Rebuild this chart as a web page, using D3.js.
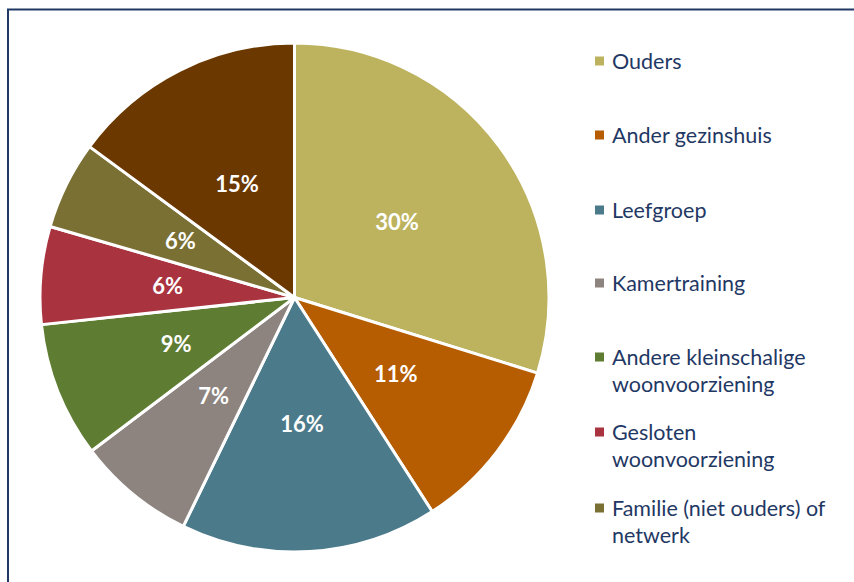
<!DOCTYPE html>
<html>
<head>
<meta charset="utf-8">
<script src="https://cdn.jsdelivr.net/npm/d3@7"></script>
<style>
  body { margin: 0; background: #fff; }
  svg { display: block; }
</style>
</head>
<body>
<div id="chart"></div>
<script>
// slice data, clockwise from 12 o'clock
const categories = ["Ouders", "Ander gezinshuis", "Leefgroep", "Kamertraining",
  "Andere kleinschalige woonvoorziening", "Gesloten woonvoorziening",
  "Familie (niet ouders) of netwerk", "Overige"];
const values = [29.8, 11.1, 16.3, 7.5, 8.6, 6.2, 5.6, 14.9];
const labels = ["30%", "11%", "16%", "7%", "9%", "6%", "6%", "15%"];
const colors = ["#BDB35F", "#B55D00", "#4B7A8B", "#8D8480", "#5E7D32", "#AA3340", "#7A7034", "#6B3800"];
// legend only shows the first seven, wrapped like in the original
const legendLines = [["Ouders"], ["Ander gezinshuis"], ["Leefgroep"], ["Kamertraining"],
  ["Andere kleinschalige", "woonvoorziening"], ["Gesloten", "woonvoorziening"],
  ["Familie (niet ouders) of", "netwerk"]];
const legendY = [61, 135, 210, 283, 357, 432, 508];

const width = 854, height = 582;
const cx = 294.5, cy = 297.5, radius = 254.5;

const svg = d3.select("#chart").append("svg")
  .attr("width", width)
  .attr("height", height);

// frame
svg.append("rect")
  .attr("x", 8).attr("y", 9.5)
  .attr("width", 900).attr("height", 700)
  .attr("fill", "none")
  .attr("stroke", "#1F3864")
  .attr("stroke-width", 2);

const data = categories.map((c, i) => ({cat: c, value: values[i], label: labels[i], color: colors[i]}));

const pie = d3.pie().value(d => d.value).sort(null);
const arc = d3.arc().innerRadius(0).outerRadius(radius);
const labelArc = d3.arc().innerRadius(0).outerRadius(radius); // centroid = r/2

const g = svg.append("g").attr("transform", `translate(${cx},${cy})`);

const arcs = pie(data);

g.selectAll("path")
  .data(arcs)
  .enter()
  .append("path")
  .attr("d", arc)
  .attr("fill", d => d.data.color)
  .attr("stroke", "#fff")
  .attr("stroke-width", 3)
  .attr("stroke-linejoin", "round");

g.selectAll("text.lbl")
  .data(arcs)
  .enter()
  .append("text")
  .attr("class", "lbl")
  .attr("transform", d => `translate(${labelArc.centroid(d)})`)
  .attr("text-anchor", "middle")
  .attr("dy", "0.36em")
  .style("font-family", "Lato, 'Open Sans', sans-serif")
  .style("font-weight", "bold")
  .style("font-size", "22px")
  .style("fill", "#fff")
  .text(d => d.data.label);

// legend
const legend = svg.append("g");
legendLines.forEach((lines, i) => {
  const y = legendY[i];
  legend.append("rect")
    .attr("x", 595).attr("y", y - 4.5)
    .attr("width", 9).attr("height", 9)
    .attr("fill", colors[i]);
  const t = legend.append("text")
    .attr("x", 612).attr("y", y)
    .style("font-family", "Lato, 'Open Sans', sans-serif")
    .style("font-size", "21.5px")
    .style("fill", "#1F3864");
  lines.forEach((ln, j) => {
    t.append("tspan").attr("x", 612).attr("dy", j === 0 ? "0.35em" : "27px").text(ln);
  });
});
</script>
</body>
</html>
